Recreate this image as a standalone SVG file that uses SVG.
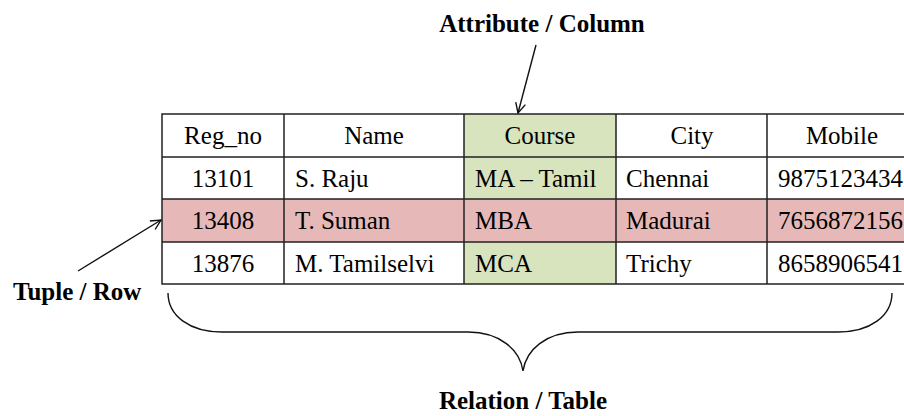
<svg xmlns="http://www.w3.org/2000/svg" width="904" height="416" viewBox="0 0 904 416">
  <style>
    .cell { font-family: "Liberation Serif", "Times New Roman", serif; font-size: 25px; fill: #000; }
    .mid { text-anchor: middle; }
    .label { font-family: "Liberation Serif", "Times New Roman", serif; font-size: 25px; font-weight: bold; fill: #000; }
    .grid { stroke: #222; stroke-width: 1.5; fill: none; }
    .conn { stroke: #111; stroke-width: 1.4; fill: none; }
  </style>
  <defs>
    <marker id="arrow" viewBox="0 0 12 12" refX="11" refY="6" markerWidth="12" markerHeight="12" markerUnits="userSpaceOnUse" orient="auto">
      <path d="M1,1 L11,6 L1,11" fill="none" stroke="#111" stroke-width="1.4"/>
    </marker>
  </defs>
  <rect width="904" height="416" fill="#fff"/>

  <!-- relation table -->
  <g id="table">
    <!-- fills: Course column and highlighted tuple -->
    <rect x="464" y="114" width="152" height="170" fill="#D7E4BD"/>
    <rect x="162" y="199" width="755" height="43" fill="#E6B9B8"/>
    <!-- grid -->
    <rect class="grid" x="162" y="114" width="755" height="170"/>
    <path class="grid" d="M162,157 H917 M162,199 H917 M162,242 H917 M284,114 V284 M464,114 V284 M616,114 V284 M767,114 V284"/>
    <!-- header row -->
    <text class="cell mid" x="223" y="144">Reg_no</text>
    <text class="cell mid" x="374" y="144">Name</text>
    <text class="cell mid" x="540" y="144">Course</text>
    <text class="cell mid" x="692" y="144">City</text>
    <text class="cell mid" x="842" y="144">Mobile</text>
    <!-- row 1 -->
    <text class="cell mid" x="223" y="187">13101</text>
    <text class="cell" x="295" y="187">S. Raju</text>
    <text class="cell" x="475" y="187">MA – Tamil</text>
    <text class="cell" x="626" y="187">Chennai</text>
    <text class="cell" x="778" y="187">9875123434</text>
    <!-- row 2 -->
    <text class="cell mid" x="223" y="229">13408</text>
    <text class="cell" x="295" y="229">T. Suman</text>
    <text class="cell" x="475" y="229">MBA</text>
    <text class="cell" x="626" y="229">Madurai</text>
    <text class="cell" x="778" y="229">7656872156</text>
    <!-- row 3 -->
    <text class="cell mid" x="223" y="272">13876</text>
    <text class="cell" x="295" y="272">M. Tamilselvi</text>
    <text class="cell" x="475" y="272">MCA</text>
    <text class="cell" x="626" y="272">Trichy</text>
    <text class="cell" x="778" y="272">8658906541</text>
  </g>

  <g id="attribute-label">
    <text class="label mid" x="542" y="32">Attribute / Column</text>
  </g>
  <g id="tuple-label">
    <text class="label" x="13" y="300">Tuple / Row</text>
  </g>
  <g id="relation-label">
    <text class="label mid" x="523" y="409">Relation / Table</text>
  </g>

  <g id="connectors">
    <line class="conn" x1="536" y1="45" x2="518" y2="113" marker-end="url(#arrow)"/>
    <line class="conn" x1="78" y1="271" x2="161" y2="220" marker-end="url(#arrow)"/>
    <!-- brace under the table -->
    <path class="conn" d="M168,293 C168,316 190,332 222,332 L468,332 C500,332 520,350 523,371 C526,350 546,332 578,332 L838,332 C870,332 892,316 892,293"/>
  </g>
</svg>
